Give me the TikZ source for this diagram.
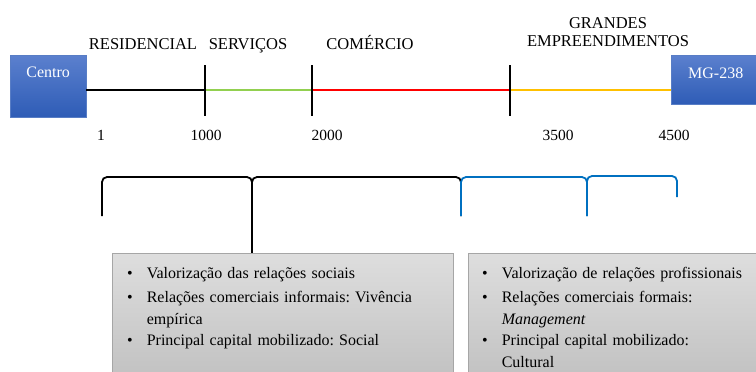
\documentclass[tikz,border=0pt]{standalone}
\usepackage{fontspec}
\setmainfont{Liberation Serif}
\definecolor{verde}{HTML}{92D050}
\definecolor{vermelho}{HTML}{FF0000}
\definecolor{laranja}{HTML}{FFC000}
\definecolor{azulchave}{HTML}{0070C0}
\definecolor{azulclaro}{HTML}{5B80CE}
\definecolor{azulescuro}{HTML}{2E5CB6}
\newcommand{\lista}{\fontsize{16}{21.5}\selectfont\frenchspacing}
\begin{document}
\begin{tikzpicture}[x=1pt,y=-1pt,font=\fontsize{15.5}{18}\selectfont,
    bloco/.style={top color=azulclaro,bottom color=azulescuro,draw=azulescuro!80,
      text=white,inner sep=0pt,anchor=north west,align=center,font=\fontsize{16}{18}\selectfont},
    zona/.style={anchor=base,font=\fontsize{16.5}{18}\selectfont},
    cinza/.style={top color=black!13,bottom color=black!25,draw=black!35,
      inner ysep=0pt,anchor=north west,text width=#1},
    marco/.style={line width=2.2pt},
    eixo/.style={line width=2.8pt},
    chave/.style={line width=1.8pt,rounded corners=5pt}]
  \useasboundingbox (0,0) rectangle (756,372);
  \node[bloco,minimum width=76pt,text height=22pt,text depth=40pt] (centro) at (10,55) {Centro};
  \node[bloco,minimum width=89pt,text height=23pt,text depth=26pt] (mg) at (671,55) {MG-238};
  \coordinate (t1) at (205,90);
  \coordinate (t2) at (312,90);
  \coordinate (t3) at (510,90);
  \draw[eixo,black] (centro.east |- t1) -- (t1);
  \draw[eixo,verde] (t1) -- (t2);
  \draw[eixo,vermelho] (t2) -- (t3);
  \draw[eixo,laranja] (t3) -- (mg.west |- t3);
  \foreach \t in {t1,t2,t3}
    \draw[marco] (\t) ++(0,-25) -- ++(0,51);
  \draw
    (143,49) node[zona] (res){RESIDENCIAL}
    (248,49) node[zona] (serv){SERVIÇOS}
    (370,49) node[zona] (com){COMÉRCIO}
    (608,28) node[zona] (gr1){GRANDES}
    (608,46) node[zona] (gr2){EMPREENDIMENTOS}
    (101,140) node[anchor=base] (n1){1}
    (206,140) node[anchor=base] (n2){1000}
    (327,140) node[anchor=base] (n3){2000}
    (558,140) node[anchor=base] (n4){3500}
    (674,140) node[anchor=base] (n5){4500};
  \node[cinza=311pt,inner xsep=15pt,text height=25pt,text depth=110pt] (b1) at (112,253)
    {\lista\begin{tabular}[t]{@{}l@{\hspace{14pt}}l@{}}
      \textbullet & Valorização das relações sociais\\[3pt]
      \textbullet & Relações comerciais informais: Vivência\\
      & empírica\\
      \textbullet & Principal capital mobilizado: Social
    \end{tabular}};
  \node[cinza=270pt,inner xsep=14pt,text height=25pt,text depth=110pt] (b2) at (468,253)
    {\lista\begin{tabular}[t]{@{}l@{\hspace{14pt}}l@{}}
      \textbullet & Valorização de relações profissionais\\[3pt]
      \textbullet & Relações comerciais formais:\\
      & \textit{Management}\\
      \textbullet & Principal capital mobilizado:\\
      & Cultural
    \end{tabular}};
  \coordinate (j1) at (252,216);
  \begin{scope}[chave]
    \draw (102,216) -- (102,177) -- (252,177) -- (j1);
    \draw (j1) -- (252,177) -- (461,177) -- (461,216);
    \draw[sharp corners] (j1) -- (j1 |- b1.north);
    \draw[azulchave] (461,216) -- (461,177) -- (587,177) -- (587,216);
    \draw[azulchave] (587,216) -- (587,176) -- (677,176) -- (677,197);
  \end{scope}
\end{tikzpicture}
\end{document}
